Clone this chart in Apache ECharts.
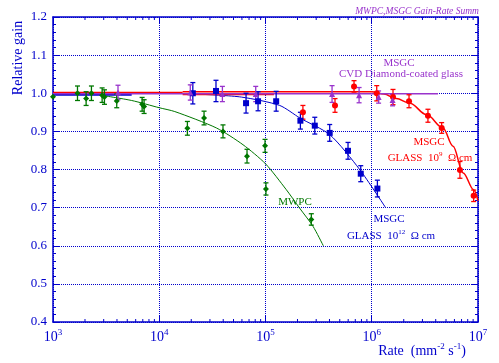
<!DOCTYPE html>
<html><head><meta charset="utf-8">
<script src="https://cdn.jsdelivr.net/npm/echarts@6/dist/echarts.min.js"></script>
<style>html,body{margin:0;padding:0;background:#fff}#c{width:499px;height:363px}</style>
</head><body><div id="c"></div>
<script>
// ---- data ----
const xTickExponents = [3, 4, 5, 6, 7];
const yTickLabels = ['0.4','0.5','0.6','0.7','0.8','0.9','1.0','1.1','1.2'];
const minorTickRates = [2e3,3e3,4e3,5e3,6e3,7e3,8e3,9e3, 2e4,3e4,4e4,5e4,6e4,7e4,8e4,9e4,
  2e5,3e5,4e5,5e5,6e5,7e5,8e5,9e5, 2e6,3e6,4e6,5e6,6e6,7e6,8e6,9e6];

// MWPC (green)
const mwpcRate = [1000,1700,2050,2300,2900,3050,3980,6900,7200,18400,26400,39800,67000,99000,101000,270000];
const mwpcGain = [0.991,1.000,0.986,1.000,0.995,0.990,0.980,0.971,0.965,0.908,0.935,0.900,0.835,0.862,0.749,0.669];
const mwpcErr  = [0,0.019,0.018,0.019,0.019,0.019,0.018,0.018,0.018,0.018,0.018,0.017,0.018,0.017,0.016,0.015];
const mwpcFitRate = [2800,5500,10000,14000,34500,61400,100000,157000,209000,280000,350000];
const mwpcFitGain = [0.995,0.981,0.962,0.952,0.909,0.865,0.815,0.747,0.699,0.651,0.600];

// MSGC glass 1e12 (blue)
const glass12Rate = [20700,34200,65600,85100,126000,213000,291000,402000,598000,788000,1130000];
const glass12Gain = [1.000,1.006,0.974,0.979,0.979,0.928,0.915,0.896,0.849,0.789,0.750];
const glass12Err  = [0.028,0.028,0.026,0.025,0.026,0.022,0.022,0.022,0.022,0.021,0.022];
const glass12FlatRate = [1000,5500];
const glass12FlatGain = [0.996,0.996];
const glass12FitRate = [25800,59300,136000,211000,404000,770000,1350000];
const glass12FitGain = [0.997,0.990,0.968,0.935,0.891,0.800,0.700];

// MSGC glass 1e9 (red)
const glass9Rate = [225000,451000,681000,1114000,1585000,2243000,3380000,4550000,6760000,9100000];
const glass9Gain = [0.950,0.968,1.018,1.000,0.990,0.979,0.941,0.909,0.799,0.731];
const glass9Err  = [0.018,0.018,0.015,0.020,0.020,0.017,0.017,0.014,0.022,0.015];
const glass9FlatRate = [1000,16600];
const glass9FlatGain = [1.001,1.001];
const glass9LowRate = [16600,120000];
const glass9LowGain = [0.997,0.997];
const glass9FitRate = [16600,1000000,1300000,1700000,2280000,3270000,4680000,5820000,7250000,9100000,10000000];
const glass9FitGain = [1.004,1.004,0.998,0.986,0.974,0.944,0.909,0.861,0.791,0.747,0.718];

// MSGC CVD diamond-coated glass (purple)
const cvdRate = [4090,19600,39300,80900,423000,760000,1160000,1570000];
const cvdGain = [1.002,1.002,0.998,0.998,0.998,0.995,0.990,0.982];
const cvdErr  = [0.019,0.020,0.020,0.020,0.022,0.020,0.016,0.015];
const cvdFitRate = [1000,4200000];
const cvdFitGain = [0.999,0.999];

// ---- styling ----
const BLUE = '#0000cc', GREEN = '#007700', RED = '#ff0000', PURPLE = '#9933cc';
const FONT = '"Liberation Serif", "Times New Roman", serif';

const pairs = (xs, ys) => xs.map((x, i) => [x, ys[i]]);
const bars = (xs, ys, es) => xs.map((x, i) => [x, ys[i] - es[i], ys[i] + es[i], es[i]]).filter(d => d[3] > 0);

function errorBarSeries(data, color) {
  return {
    type: 'custom', xAxisIndex: 0, yAxisIndex: 0, z: 6, clip: false,
    encode: { x: 0, y: [1, 2] },
    data: data,
    renderItem: function (params, api) {
      const x = api.value(0);
      const lo = api.coord([x, api.value(1)]);
      const hi = api.coord([x, api.value(2)]);
      const w = 2.5;
      const st = { stroke: color, lineWidth: 1.3 };
      return { type: 'group', children: [
        { type: 'line', shape: { x1: lo[0], y1: lo[1], x2: hi[0], y2: hi[1] }, style: st },
        { type: 'line', shape: { x1: lo[0] - w, y1: lo[1], x2: lo[0] + w, y2: lo[1] }, style: st },
        { type: 'line', shape: { x1: hi[0] - w, y1: hi[1], x2: hi[0] + w, y2: hi[1] }, style: st }
      ]};
    }
  };
}
function lineSeries(xs, ys, color, width, z, mono) {
  const s = { type: 'line', data: pairs(xs, ys), symbol: 'none', smooth: mono ? 0.35 : 0.25,
    lineStyle: { color: color, width: width }, z: z, silent: true };
  if (mono) s.smoothMonotone = 'x';
  return s;
}
function scatterSeries(xs, ys, color, symbol, size) {
  return { type: 'scatter', data: pairs(xs, ys), symbol: symbol, symbolSize: size,
    itemStyle: { color: color, opacity: 1 }, z: 7 };
}

const axisCommon = {
  axisLine: { show: true, onZero: false, lineStyle: { color: BLUE, width: 1.5 } },
  axisTick: { show: true, inside: true, length: 6, lineStyle: { color: BLUE, width: 1 } }
};

const option = {
  animation: false,
  backgroundColor: '#fff',
  grid: { left: 53, right: 21, top: 17, bottom: 41, containLabel: false },
  xAxis: [
    Object.assign({}, axisCommon, {
      type: 'log', logBase: 10, min: 1000, max: 1e7, position: 'bottom',
      axisLabel: {
        show: true, margin: 6, showMinLabel: true, showMaxLabel: true,
        formatter: v => '{b|10}{s|' + xTickExponents[Math.round(Math.log10(v)) - 3] + '}',
        rich: {
          b: { fontFamily: FONT, fontSize: 14, color: BLUE, lineHeight: 16, verticalAlign: 'bottom' },
          s: { fontFamily: FONT, fontSize: 9, color: BLUE, verticalAlign: 'top' }
        }
      },
      splitLine: { show: true, lineStyle: { color: BLUE, width: 1, type: [1, 1] } }
    }),
    Object.assign({}, axisCommon, {
      type: 'log', logBase: 10, min: 1000, max: 1e7, position: 'top',
      axisLabel: { show: false }, splitLine: { show: false }
    })
  ],
  yAxis: [
    Object.assign({}, axisCommon, {
      type: 'value', min: 0.4, max: 1.2, interval: 0.1, position: 'left',
      minorTick: { show: true, splitNumber: 5, length: 3, lineStyle: { color: BLUE, width: 1 } },
      axisLabel: { show: true, margin: 6, fontFamily: FONT, fontSize: 13, color: BLUE,
        formatter: v => yTickLabels[Math.round((v - 0.4) * 10)] },
      splitLine: { show: true, lineStyle: { color: BLUE, width: 1, type: [1, 1] } }
    }),
    Object.assign({}, axisCommon, {
      type: 'value', min: 0.4, max: 1.2, interval: 0.1, position: 'right',
      minorTick: { show: true, splitNumber: 5, length: 3, lineStyle: { color: BLUE, width: 1 } },
      axisLabel: { show: false }, splitLine: { show: false }
    })
  ],
  series: [
    {
      type: 'custom', xAxisIndex: 0, yAxisIndex: 0, z: 5, clip: false, silent: true,
      encode: { x: 0, y: 1 },
      data: minorTickRates.map(v => [v, 0.8]),
      renderItem: function (params, api) {
        const v = api.value(0);
        const b = api.coord([v, 0.4]);
        const t = api.coord([v, 1.2]);
        const st = { stroke: BLUE, lineWidth: 1 };
        return { type: 'group', children: [
          { type: 'line', shape: { x1: b[0], y1: b[1], x2: b[0], y2: b[1] - 3 }, style: st },
          { type: 'line', shape: { x1: t[0], y1: t[1], x2: t[0], y2: t[1] + 3 }, style: st }
        ]};
      }
    },
    lineSeries(glass12FlatRate, glass12FlatGain, BLUE, 2, 2, false),
    lineSeries(glass12FitRate, glass12FitGain, BLUE, 1, 2, false),
    lineSeries(mwpcFitRate, mwpcFitGain, GREEN, 1, 2, false),
    lineSeries(glass9FlatRate, glass9FlatGain, RED, 2, 3, false),
    lineSeries(glass9LowRate, glass9LowGain, RED, 1.5, 3, false),
    lineSeries(glass9FitRate, glass9FitGain, RED, 1.5, 3, true),
    lineSeries(cvdFitRate, cvdFitGain, PURPLE, 1.5, 4, false),
    errorBarSeries(bars(mwpcRate, mwpcGain, mwpcErr), GREEN),
    errorBarSeries(bars(glass12Rate, glass12Gain, glass12Err), BLUE),
    errorBarSeries(bars(glass9Rate, glass9Gain, glass9Err), RED),
    errorBarSeries(bars(cvdRate, cvdGain, cvdErr), PURPLE),
    scatterSeries(mwpcRate, mwpcGain, GREEN, 'diamond', 6),
    scatterSeries(glass12Rate, glass12Gain, BLUE, 'rect', 6),
    scatterSeries(glass9Rate, glass9Gain, RED, 'circle', 6),
    scatterSeries(cvdRate, cvdGain, PURPLE, 'triangle', 6)
  ],
  graphic: [
    { type: 'text', x: 417, y: 11, silent: true,
      style: { text: 'MWPC,MSGC Gain-Rate Summ', font: 'italic 9.5px ' + FONT, fill: PURPLE, align: 'center', verticalAlign: 'middle' } },
    { type: 'text', x: 18, y: 58, rotation: Math.PI / 2, silent: true,
      style: { text: 'Relative gain', font: '14px ' + FONT, fill: BLUE, align: 'center', verticalAlign: 'middle' } },
    { type: 'text', x: 422, y: 350, silent: true,
      style: { text: '{b|Rate  (mm}{s|-2}{b| s}{s|-1}{b|)}', align: 'center', verticalAlign: 'middle',
        rich: { b: { fontFamily: FONT, fontSize: 14, fill: BLUE, lineHeight: 16, verticalAlign: 'bottom' },
                s: { fontFamily: FONT, fontSize: 9, fill: BLUE, verticalAlign: 'top' } } } },
    { type: 'text', x: 399, y: 63, silent: true,
      style: { text: 'MSGC', font: '11px ' + FONT, fill: PURPLE, align: 'center', verticalAlign: 'middle' } },
    { type: 'text', x: 401, y: 74, silent: true,
      style: { text: 'CVD Diamond-coated glass', font: '11px ' + FONT, fill: PURPLE, align: 'center', verticalAlign: 'middle' } },
    { type: 'text', x: 429, y: 142, silent: true,
      style: { text: 'MSGC', font: '11px ' + FONT, fill: RED, align: 'center', verticalAlign: 'middle' } },
    { type: 'text', x: 430, y: 157, silent: true,
      style: { text: '{a|GLASS  10}{s|9}{a|  Ω cm}', align: 'center', verticalAlign: 'middle',
        rich: { a: { fontFamily: FONT, fontSize: 11, fill: RED, lineHeight: 13, verticalAlign: 'bottom' },
                s: { fontFamily: FONT, fontSize: 7, fill: RED, verticalAlign: 'top' } } } },
    { type: 'text', x: 295, y: 202, silent: true,
      style: { text: 'MWPC', font: '11px ' + FONT, fill: GREEN, align: 'center', verticalAlign: 'middle' } },
    { type: 'text', x: 389, y: 219, silent: true,
      style: { text: 'MSGC', font: '11px ' + FONT, fill: BLUE, align: 'center', verticalAlign: 'middle' } },
    { type: 'text', x: 391, y: 235, silent: true,
      style: { text: '{a|GLASS  10}{s|12}{a|  Ω cm}', align: 'center', verticalAlign: 'middle',
        rich: { a: { fontFamily: FONT, fontSize: 11, fill: BLUE, lineHeight: 13, verticalAlign: 'bottom' },
                s: { fontFamily: FONT, fontSize: 7, fill: BLUE, verticalAlign: 'top' } } } }
  ]
};

const chart = echarts.init(document.getElementById('c'), null, { renderer: 'canvas' });
chart.setOption(option);
</script>
</body></html>
